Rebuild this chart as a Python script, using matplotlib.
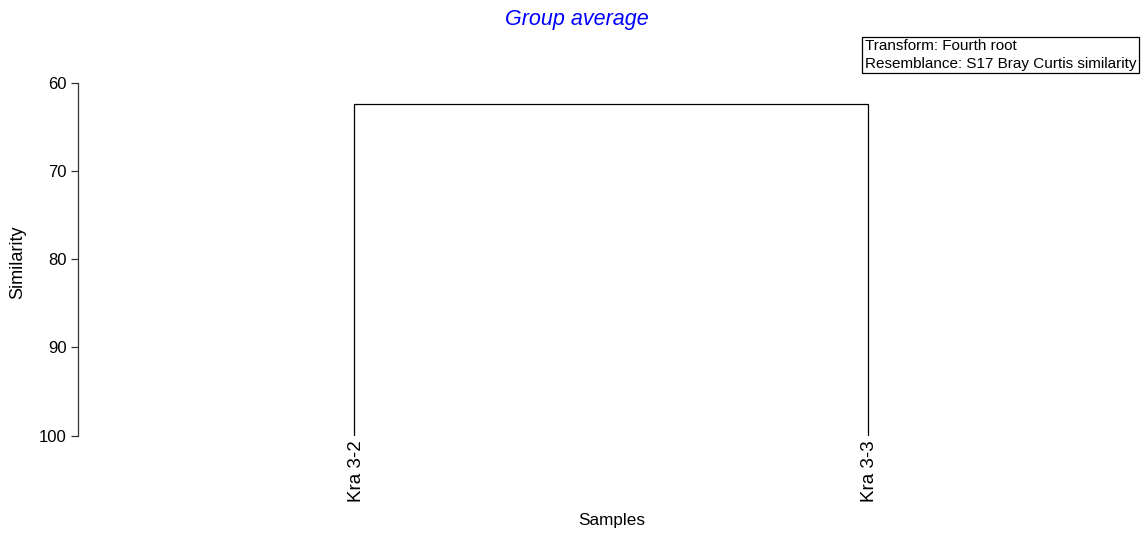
import matplotlib
matplotlib.use("Agg")
import matplotlib.pyplot as plt
from matplotlib.transforms import blended_transform_factory, offset_copy

plt.rcParams['font.family'] = ['Liberation Sans', 'DejaVu Sans']

# Data
samples = ["Kra 3-2", "Kra 3-3"]
merge_similarity = 62.4
leaf_similarity = 100
y_ticks = [60, 70, 80, 90, 100]
title = "Group average"
legend_lines = ["Transform: Fourth root", "Resemblance: S17 Bray Curtis similarity"]

W, H = 1147, 533
fig = plt.figure(figsize=(W / 100, H / 100), dpi=100)
ax_left, ax_right = 78, 1144
ax_top, ax_bottom = 82.7, 435.7
ax = fig.add_axes([ax_left / W, 1 - ax_bottom / H, (ax_right - ax_left) / W, (ax_bottom - ax_top) / H])

xs = list(range(len(samples)))
ax.plot([xs[0], xs[0], xs[1], xs[1]],
        [leaf_similarity, merge_similarity, merge_similarity, leaf_similarity],
        color='black', lw=0.9, solid_capstyle='butt')

ax.set_xlim(-0.537, 1.537)
ax.set_ylim(100, 60)
ax.set_yticks(y_ticks)
ax.set_yticklabels([str(t) for t in y_ticks], fontsize=12)
ax.tick_params(axis='y', length=5, width=0.9, pad=3, color='#333333')
ax.set_xticks([])
for s in ['top', 'right', 'bottom']:
    ax.spines[s].set_visible(False)
ax.spines['left'].set_linewidth(0.9)
ax.spines['left'].set_color('#333333')

trans = blended_transform_factory(ax.transData, ax.transAxes)
trans = offset_copy(trans, fig=fig, x=2, y=-5, units='dots')
for x, lab in zip(xs, samples):
    ax.text(x, 0, lab, transform=trans, rotation=90, ha='center', va='top', fontsize=13.5)

fig.text(18 / W, 1 - 262 / H, "Similarity", rotation=90, ha='center', va='center', fontsize=13)
fig.text(612 / W, 1 - 521 / H, "Samples", ha='center', va='center', fontsize=12.3)
fig.text(577 / W, 1 - 19 / H, title, ha='center', va='center', fontsize=15.5,
         color='#0000ff', style='italic')

fig.text(865 / W, 1 - 55 / H, "\n".join(legend_lines), ha='left', va='center', fontsize=11,
         linespacing=1.3,
         bbox=dict(boxstyle='square,pad=0.18', facecolor='white', edgecolor='black', linewidth=0.9))

fig.savefig("out.png", dpi=100)
